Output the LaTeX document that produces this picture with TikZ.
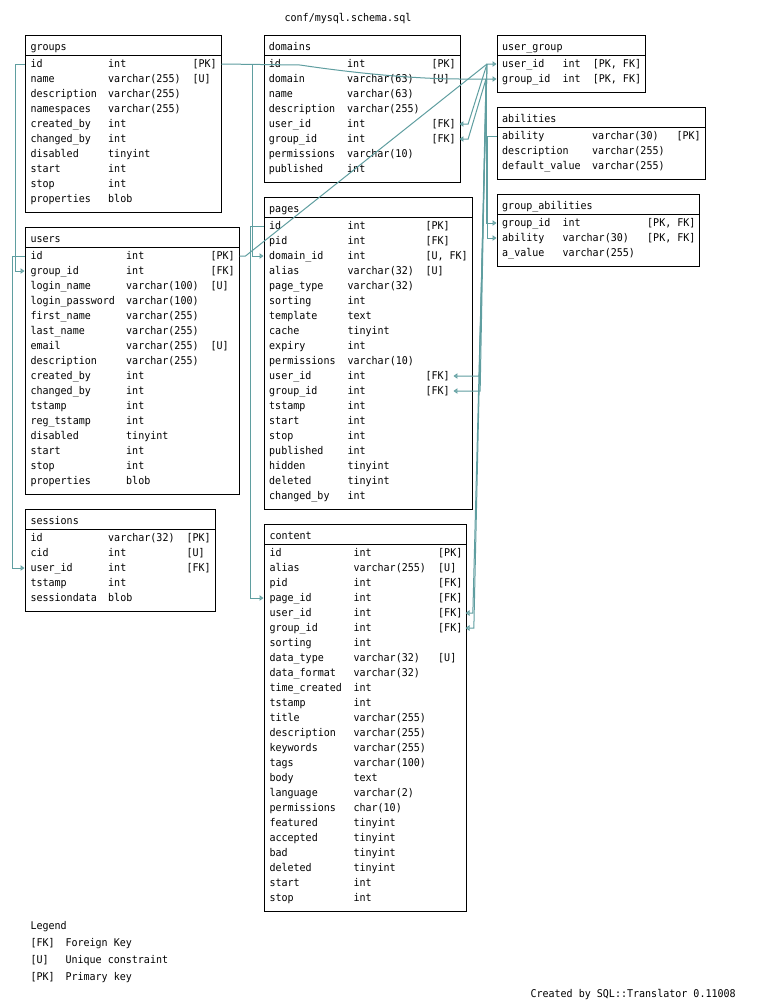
\documentclass[tikz,border=0pt]{standalone}
\usepackage{fontspec}
\usepackage{tikz}
\usetikzlibrary{arrows.meta, fit}
\usepackage{xcolor}
\newfontfamily\sqlfont[FakeStretch=0.94]{DejaVu Sans Mono}
\definecolor{SchemaTeal}{HTML}{5F9EA0}

\tikzset{
  tbl/.style={draw, inner sep=0pt},
  fld/.style={font=\sqlfont\fontsize{8pt}{9pt}\selectfont, anchor=west, inner sep=0pt, text height=6.5pt, text depth=1.25pt},
  fk/.style={draw=SchemaTeal, -{Triangle[open, length=3pt, width=4pt]}}
}

\begin{document}
\begin{tikzpicture}[x=0.75pt, y=-0.75pt, line width=0.75pt]
  \path[use as bounding box, fill=white] (0,0) rectangle (765,1004);

  % Title
  \node[fld, anchor=center] (title) at (348,18) {conf/mysql.schema.sql};

  % groups
  \node[tbl, fit={(25,35) (221,212)}] (groups) {};
  \draw (25,55) -- (221,55);
  \node[fld] (groups-h) at (30,46.5) {groups};
  \foreach \fname/\ftype/\fkey [count=\i] in {id/int/{[PK]}, name/varchar(255)/{[U]},
      description/varchar(255)/{}, namespaces/varchar(255)/{}, created\_by/int/{},
      changed\_by/int/{}, disabled/tinyint/{}, start/int/{}, stop/int/{}, properties/blob/{}} {
    \node[fld] (groups-\i) at (30,{64+15*(\i-1)}) {\fname};
    \node[fld] (groups-\i-t) at (107.7,{64+15*(\i-1)}) {\ftype};
    \node[fld] (groups-\i-k) at (192,{64+15*(\i-1)}) {\fkey};
  }

  % users
  \node[tbl, fit={(25,227) (239,494)}] (users) {};
  \draw (25,247) -- (239,247);
  \node[fld] (users-h) at (30,238.5) {users};
  \foreach \fname/\ftype/\fkey [count=\i] in {id/int/{[PK]}, group\_id/int/{[FK]},
      login\_name/varchar(100)/{[U]}, login\_password/varchar(100)/{}, first\_name/varchar(255)/{},
      last\_name/varchar(255)/{}, email/varchar(255)/{[U]}, description/varchar(255)/{},
      created\_by/int/{}, changed\_by/int/{}, tstamp/int/{}, reg\_tstamp/int/{},
      disabled/tinyint/{}, start/int/{}, stop/int/{}, properties/blob/{}} {
    \node[fld] (users-\i) at (30,{256+15*(\i-1)}) {\fname};
    \node[fld] (users-\i-t) at (125.7,{256+15*(\i-1)}) {\ftype};
    \node[fld] (users-\i-k) at (210,{256+15*(\i-1)}) {\fkey};
  }

  % sessions
  \node[tbl, fit={(25,509) (215,611)}] (sessions) {};
  \draw (25,529) -- (215,529);
  \node[fld] (sessions-h) at (30,520.5) {sessions};
  \foreach \fname/\ftype/\fkey [count=\i] in {id/varchar(32)/{[PK]}, cid/int/{[U]},
      user\_id/int/{[FK]}, tstamp/int/{}, sessiondata/blob/{}} {
    \node[fld] (sessions-\i) at (30,{538+15*(\i-1)}) {\fname};
    \node[fld] (sessions-\i-t) at (107.7,{538+15*(\i-1)}) {\ftype};
    \node[fld] (sessions-\i-k) at (186,{538+15*(\i-1)}) {\fkey};
  }

  % domains
  \node[tbl, fit={(264,35) (460,182)}] (domains) {};
  \draw (264,55) -- (460,55);
  \node[fld] (domains-h) at (268.3,46.5) {domains};
  \foreach \fname/\ftype/\fkey [count=\i] in {id/int/{[PK]}, domain/varchar(63)/{[U]},
      name/varchar(63)/{}, description/varchar(255)/{}, user\_id/int/{[FK]},
      group\_id/int/{[FK]}, permissions/varchar(10)/{}, published/int/{}} {
    \node[fld] (domains-\i) at (268.3,{64+15*(\i-1)}) {\fname};
    \node[fld] (domains-\i-t) at (346.7,{64+15*(\i-1)}) {\ftype};
    \node[fld] (domains-\i-k) at (431,{64+15*(\i-1)}) {\fkey};
  }

  % pages
  \node[tbl, fit={(264,197) (472,509)}] (pages) {};
  \draw (264,217) -- (472,217);
  \node[fld] (pages-h) at (268.7,208.5) {pages};
  \foreach \fname/\ftype/\fkey [count=\i] in {id/int/{[PK]}, pid/int/{[FK]},
      domain\_id/int/{[U, FK]}, alias/varchar(32)/{[U]}, page\_type/varchar(32)/{},
      sorting/int/{}, template/text/{}, cache/tinyint/{}, expiry/int/{},
      permissions/varchar(10)/{}, user\_id/int/{[FK]}, group\_id/int/{[FK]},
      tstamp/int/{}, start/int/{}, stop/int/{}, published/int/{}, hidden/tinyint/{},
      deleted/tinyint/{}, changed\_by/int/{}} {
    \node[fld] (pages-\i) at (268.7,{226+15*(\i-1)}) {\fname};
    \node[fld] (pages-\i-t) at (347,{226+15*(\i-1)}) {\ftype};
    \node[fld] (pages-\i-k) at (425,{226+15*(\i-1)}) {\fkey};
  }

  % content
  \node[tbl, fit={(264,524) (466,911)}] (content) {};
  \draw (264,544) -- (466,544);
  \node[fld] (content-h) at (269,535.5) {content};
  \foreach \fname/\ftype/\fkey [count=\i] in {id/int/{[PK]}, alias/varchar(255)/{[U]},
      pid/int/{[FK]}, page\_id/int/{[FK]}, user\_id/int/{[FK]}, group\_id/int/{[FK]},
      sorting/int/{}, data\_type/varchar(32)/{[U]}, data\_format/varchar(32)/{},
      time\_created/int/{}, tstamp/int/{}, title/varchar(255)/{}, description/varchar(255)/{},
      keywords/varchar(255)/{}, tags/varchar(100)/{}, body/text/{}, language/varchar(2)/{},
      permissions/char(10)/{}, featured/tinyint/{}, accepted/tinyint/{}, bad/tinyint/{},
      deleted/tinyint/{}, start/int/{}, stop/int/{}} {
    \node[fld] (content-\i) at (269,{553+15*(\i-1)}) {\fname};
    \node[fld] (content-\i-t) at (353,{553+15*(\i-1)}) {\ftype};
    \node[fld] (content-\i-k) at (437.7,{553+15*(\i-1)}) {\fkey};
  }

  % user_group
  \node[tbl, fit={(497,35) (645,92)}] (user_group) {};
  \draw (497,55) -- (645,55);
  \node[fld] (user_group-h) at (501.7,46.5) {user\_group};
  \foreach \fname/\ftype/\fkey [count=\i] in {user\_id/int/{[PK, FK]}, group\_id/int/{[PK, FK]}} {
    \node[fld] (user_group-\i) at (501.7,{64+15*(\i-1)}) {\fname};
    \node[fld] (user_group-\i-t) at (562,{64+15*(\i-1)}) {\ftype};
    \node[fld] (user_group-\i-k) at (592.3,{64+15*(\i-1)}) {\fkey};
  }

  % abilities
  \node[tbl, fit={(497,107) (705,179)}] (abilities) {};
  \draw (497,127) -- (705,127);
  \node[fld] (abilities-h) at (501.7,118.5) {abilities};
  \foreach \fname/\ftype/\fkey [count=\i] in {ability/varchar(30)/{[PK]},
      description/varchar(255)/{}, default\_value/varchar(255)/{}} {
    \node[fld] (abilities-\i) at (501.7,{136+15*(\i-1)}) {\fname};
    \node[fld] (abilities-\i-t) at (591.7,{136+15*(\i-1)}) {\ftype};
    \node[fld] (abilities-\i-k) at (676,{136+15*(\i-1)}) {\fkey};
  }

  % group_abilities
  \node[tbl, fit={(497,194) (699,266)}] (group_abilities) {};
  \draw (497,214) -- (699,214);
  \node[fld] (group_abilities-h) at (501.7,205.5) {group\_abilities};
  \foreach \fname/\ftype/\fkey [count=\i] in {group\_id/int/{[PK, FK]},
      ability/varchar(30)/{[PK, FK]}, a\_value/varchar(255)/{}} {
    \node[fld] (group_abilities-\i) at (501.7,{223+15*(\i-1)}) {\fname};
    \node[fld] (group_abilities-\i-t) at (562,{223+15*(\i-1)}) {\ftype};
    \node[fld] (group_abilities-\i-k) at (646.7,{223+15*(\i-1)}) {\fkey};
  }

  % Foreign keys, left side
  \draw[fk] (groups.west |- groups-1) -- ++(-9,0) |- (users.west |- users-2);
  \draw[fk] (users.west |- users-1) -- ++(-12,0) |- (sessions.west |- sessions-3);
  \draw[fk] (domains.west |- domains-1) -- ++(-11,0) |- (pages.west |- pages-3);
  \draw[fk] (pages.west |- pages-1) -- ++(-13,0) |- (content.west |- content-4);
  \draw[fk] (abilities.west |- abilities-1) -- ++(-9,0) |- (group_abilities.west |- group_abilities-2);

  % Foreign keys to user_group
  \coordinate (ujoin) at (487,64);
  \coordinate (gjoin) at (486,79);
  \draw[fk] (users.east |- users-1) -- ++(6,0) -- (ujoin) -- (user_group.west |- user_group-1);
  \draw[fk] (groups.east |- groups-1) -- (300,65) .. controls (360,74) and (420,79) .. (460,79)
    -- (user_group.west |- user_group-2);

  % users.id fan
  \draw[fk] (ujoin) -- ([xshift=9pt]domains-5-k.east) -- ([xshift=2.5pt]domains-5-k.east);
  \draw[fk] (ujoin) -- ([xshift=21.75pt]pages-11-k.east) -- ([xshift=2.5pt]pages-11-k.east);
  \draw[fk] (ujoin) -- ([xshift=7.5pt]content-5-k.east) -- ([xshift=2pt]content-5-k.east);

  % groups.id fan
  \draw[fk] (gjoin) -- ([xshift=9pt]domains-6-k.east) -- ([xshift=2.5pt]domains-6-k.east);
  \draw[fk] (gjoin) -- ([xshift=22.5pt]pages-12-k.east) -- ([xshift=2.5pt]pages-12-k.east);
  \draw[fk] (gjoin) -- ([xshift=8.25pt]content-6-k.east) -- ([xshift=2pt]content-6-k.east);
  \draw[fk] (gjoin) |- (group_abilities.west |- group_abilities-1);

  % Legend
  \node[fld] (legend) at (30,926) {Legend};
  \node[fld] (legend-fk) at (30,943) {[FK]};
  \node[fld] (legend-fk-t) at (65,943) {Foreign Key};
  \node[fld] (legend-u) at (30,960) {[U]};
  \node[fld] (legend-u-t) at (65,960) {Unique constraint};
  \node[fld] (legend-pk) at (30,977) {[PK]};
  \node[fld] (legend-pk-t) at (65,977) {Primary key};

  \node[fld] (credit) at (530,994) {Created by SQL::Translator 0.11008};
\end{tikzpicture}
\end{document}
